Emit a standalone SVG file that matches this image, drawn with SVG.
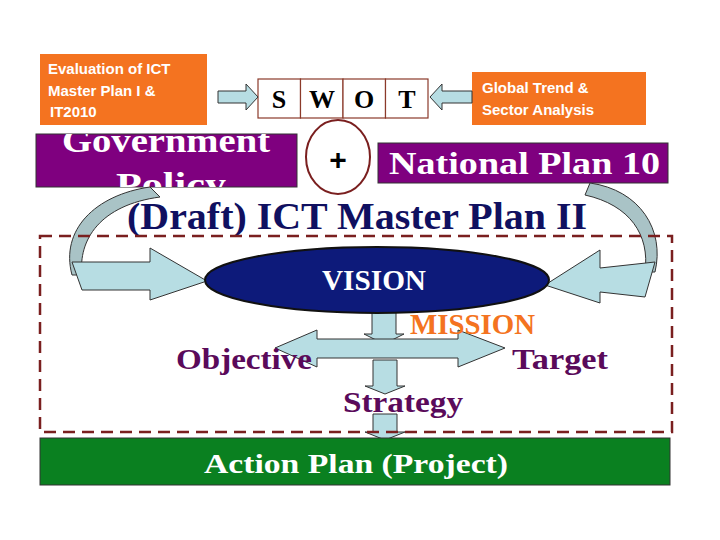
<svg xmlns="http://www.w3.org/2000/svg" width="720" height="540" viewBox="0 0 720 540">
<style>
.or{fill:#f47320}
.ow{fill:#fff;font-family:"Liberation Sans",Arial,sans-serif;font-weight:bold;font-size:15px}
.pu{fill:#7f007f;stroke:#333;stroke-width:1}
.sf{font-family:"Liberation Serif","Times New Roman",serif;font-weight:bold}
.ar{fill:#b7dde3;stroke:#333;stroke-width:1}
.cell{fill:#fff;stroke:#8b3a2a;stroke-width:1.2}
</style>
<defs><clipPath id="gp"><rect x="36" y="134" width="261" height="53"/></clipPath></defs>
<g id="eval"><rect class="or" x="40" y="54" width="167" height="71"/>
<text class="ow" x="48" y="74">Evaluation of ICT</text><text class="ow" x="48" y="96">Master Plan I &amp;</text><text class="ow" x="50" y="117">IT2010</text></g>
<g id="global"><rect class="or" x="472" y="72" width="174" height="53"/>
<text class="ow" x="482" y="93">Global Trend &amp;</text><text class="ow" x="482" y="115">Sector Analysis</text></g>
<g id="swot">
<rect class="cell" x="258" y="79" width="42.5" height="39"/><rect class="cell" x="300.5" y="79" width="42.5" height="39"/><rect class="cell" x="343" y="79" width="42.5" height="39"/><rect class="cell" x="385.5" y="79" width="42.5" height="39"/>
<g class="sf" font-size="26" text-anchor="middle"><text x="279" y="108">S</text><text x="322" y="108">W</text><text x="364" y="108">O</text><text x="407" y="108">T</text></g></g>
<g id="gov"><rect class="pu" x="36" y="134" width="261" height="53"/>
<g clip-path="url(#gp)"><text class="sf" x="62" y="152" font-size="34" fill="#fff" textLength="208" lengthAdjust="spacingAndGlyphs">Government</text><text class="sf" x="116" y="196" font-size="34" fill="#fff" textLength="110" lengthAdjust="spacingAndGlyphs">Policy</text></g></g>
<g id="plus"><ellipse cx="338" cy="157" rx="32" ry="37" fill="#fff" stroke="#7a1f1f" stroke-width="2"/><text x="338" y="170" font-family="Liberation Sans,sans-serif" font-weight="bold" font-size="30" text-anchor="middle">+</text></g>
<g id="national"><rect class="pu" x="378" y="143" width="290" height="40"/><text class="sf" x="389" y="174" font-size="32" fill="#fff" textLength="271" lengthAdjust="spacingAndGlyphs">National Plan 10</text></g>
<g id="connectors">
<path class="ar" d="M218 91 H246 V84 L258 97 L246 110 V103 H218 Z"/>
<path class="ar" d="M472 91 H442 V84 L430 97 L442 110 V103 H472 Z"/>
<path class="ar" style="fill:#a9c3c6" d="M150 187 C95 195 60 230 72 275 L82 275 C78 240 100 205 160 197 Z"/>
<path class="ar" d="M72 262 L150 262 L150 248 L207 281 L150 300 L150 290 L82 290 Z"/>
<path class="ar" style="fill:#a9c3c6" d="M590 183 C640 190 665 230 655 272 L645 272 C650 235 630 205 585 195 Z"/>
<path class="ar" d="M655 262 L600 268 L600 250 L545 285 L600 303 L600 292 L645 297 Z"/>
<path class="ar" d="M372 306 H396 V334 H404 L384 344 L364 334 H372 Z"/>
<path class="ar" d="M275 348 L317 330 V339 H458 V330 L505 348 L458 367 V358 H317 V367 Z"/>
<path class="ar" d="M373 360 H397 V386 H405 L385 394 L365 386 H373 Z"/>
<path class="ar" d="M373 414 H397 V432 H405 L385 440 L365 432 H373 Z"/>
</g>
<g id="title"><text class="sf" x="127" y="229" font-size="38" fill="#101060" textLength="460" lengthAdjust="spacingAndGlyphs">(Draft) ICT Master Plan II</text></g>
<rect id="frame" x="40" y="236" width="632" height="196" fill="none" stroke="#7a1f1f" stroke-width="2.5" stroke-dasharray="12 7"/>
<g id="vision"><ellipse cx="377" cy="280" rx="172" ry="33" fill="#0d1a7a" stroke="#111" stroke-width="2"/><text class="sf" x="322" y="290" font-size="29" fill="#fff" textLength="104" lengthAdjust="spacingAndGlyphs">VISION</text></g>
<g id="labels" class="sf" font-size="29">
<text x="410" y="334" fill="#f47320" textLength="125" lengthAdjust="spacingAndGlyphs">MISSION</text>
<text x="176" y="369" fill="#5a0a5a" textLength="136" lengthAdjust="spacingAndGlyphs">Objective</text>
<text x="512" y="369" fill="#5a0a5a" textLength="96" lengthAdjust="spacingAndGlyphs">Target</text>
<text x="343" y="412" fill="#5a0a5a" textLength="120" lengthAdjust="spacingAndGlyphs">Strategy</text></g>
<g id="action"><rect x="40" y="438" width="630" height="47" fill="#0a8020" stroke="#333"/><text class="sf" x="204" y="473" font-size="28" fill="#fff" textLength="304" lengthAdjust="spacingAndGlyphs">Action Plan (Project)</text></g>
</svg>
